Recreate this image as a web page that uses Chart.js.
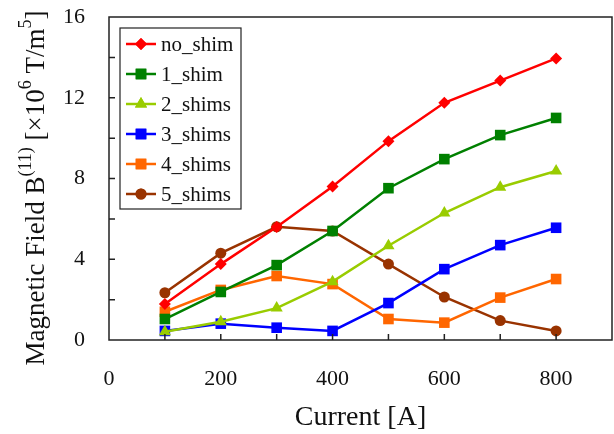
<!DOCTYPE html>
<html>
<head>
<meta charset="utf-8">
<script src="https://cdn.jsdelivr.net/npm/chart.js@4/dist/chart.umd.min.js"></script>
<style>
  html, body { margin: 0; padding: 0; background: #fff; }
  #wrap { width: 614px; height: 434px; }
</style>
</head>
<body>
<div id="wrap"><canvas id="myChart" width="614" height="434"></canvas></div>
<script>
// data
const current = [100, 200, 300, 400, 500, 600, 700, 800]
const noShim = [1.78, 3.76, 5.6, 7.6, 9.85, 11.75, 12.85, 13.95]
const shim1 = [1.04, 2.38, 3.71, 5.4, 7.52, 8.96, 10.15, 11.0]
const shim2 = [0.41, 0.9, 1.58, 2.89, 4.67, 6.29, 7.57, 8.37]
const shim3 = [0.45, 0.81, 0.61, 0.45, 1.83, 3.51, 4.7, 5.56]
const shim4 = [1.4, 2.48, 3.17, 2.77, 1.04, 0.86, 2.1, 3.02]
const shim5 = [2.34, 4.3, 5.61, 5.4, 3.76, 2.13, 0.96, 0.45]

const serif = "'Liberation Serif', 'Times New Roman', serif"

function pts(vals) {
    return vals.map((v, i) => ({ x: current[i], y: v }))
}

function series(label, vals, color, style, r) {
    return {
        label: label,
        data: pts(vals),
        borderColor: color,
        backgroundColor: color,
        borderWidth: 2.5,
        pointStyle: style,
        pointRadius: r,
        pointHoverRadius: r,
        pointBorderWidth: 0,
        tension: 0,
    }
}

function noPad(s) {
    s.paddingTop = 0
    s.paddingBottom = 0
    s.paddingLeft = 0
    s.paddingRight = 0
}

// box, inward ticks, y title with superscripts, legend
const decor = {
    id: 'decor',
    afterDraw(chart) {
        const ctx = chart.ctx
        const a = chart.chartArea
        const xs = chart.scales.x
        const ys = chart.scales.y
        ctx.save()
        ctx.strokeStyle = '#222'
        ctx.lineWidth = 1.5
        ctx.beginPath()
        xs.ticks.forEach(t => {
            if (t.value <= xs.min || t.value >= xs.max) return
            const px = xs.getPixelForValue(t.value)
            ctx.moveTo(px, a.bottom)
            ctx.lineTo(px, a.bottom - 6)
        })
        ys.ticks.forEach(t => {
            if (t.value <= ys.min || t.value >= ys.max) return
            const py = ys.getPixelForValue(t.value)
            ctx.moveTo(a.left, py)
            ctx.lineTo(a.left + 6, py)
        })
        ctx.stroke()
        ctx.strokeRect(a.left, a.top, a.right - a.left, a.bottom - a.top)

        // y axis title
        const parts = [
            ['Magnetic Field B', 27, 0],
            ['(11)', 18, -11],
            [' [\u00d710', 27, 0],
            ['6', 18, -11],
            [' T/m', 27, 0],
            ['5', 18, -11],
            [']', 27, 0],
        ]
        let total = 0
        parts.forEach(p => {
            ctx.font = p[1] + 'px ' + serif
            p.push(ctx.measureText(p[0]).width)
            total += p[3]
        })
        ctx.translate(37, 188)
        ctx.rotate(-Math.PI / 2)
        ctx.fillStyle = '#111'
        ctx.textBaseline = 'middle'
        let cx = -total / 2
        parts.forEach(p => {
            ctx.font = p[1] + 'px ' + serif
            ctx.fillText(p[0], cx, p[2])
            cx += p[3]
        })
        ctx.restore()

        // legend
        ctx.save()
        const lx = 120, ly = 28, lw = 121, lh = 181
        ctx.fillStyle = '#fff'
        ctx.fillRect(lx, ly, lw, lh)
        ctx.strokeStyle = '#222'
        ctx.lineWidth = 1.2
        ctx.strokeRect(lx, ly, lw, lh)
        ctx.font = '21px ' + serif
        ctx.textBaseline = 'middle'
        chart.data.datasets.forEach((ds, i) => {
            const y = ly + 16 + i * 30
            ctx.strokeStyle = ds.borderColor
            ctx.lineWidth = 2.5
            ctx.beginPath()
            ctx.moveTo(lx + 6, y)
            ctx.lineTo(lx + 36, y)
            ctx.stroke()
            ctx.fillStyle = ds.backgroundColor
            Chart.helpers.drawPoint(ctx, {
                pointStyle: ds.pointStyle,
                radius: ds.pointRadius,
                borderWidth: 0,
                rotation: 0,
            }, lx + 21, y)
            ctx.fill()
            ctx.fillStyle = '#111'
            ctx.fillText(ds.label, lx + 41, y + 1)
        })
        ctx.restore()
    }
}

const ctx = document.getElementById('myChart').getContext('2d')
const myChart = new Chart(ctx, {
    type: 'line',
    data: {
        datasets: [
            series('no_shim', noShim, '#ff0000', 'rectRot', 6),
            series('1_shim', shim1, '#008000', 'rect', 7.5),
            series('2_shims', shim2, '#99cc00', 'triangle', 7),
            series('3_shims', shim3, '#0000ff', 'rect', 7.5),
            series('4_shims', shim4, '#ff6600', 'rect', 7.5),
            series('5_shims', shim5, '#993300', 'circle', 5.5),
        ]
    },
    options: {
        responsive: false,
        animation: false,
        layout: { autoPadding: false, padding: { top: 17, right: 2, left: 0, bottom: 0 } },
        plugins: {
            legend: { display: false },
            tooltip: { enabled: false },
        },
        scales: {
            x: {
                type: 'linear',
                min: 0,
                max: 900,
                grid: { display: false, drawTicks: false },
                border: { display: false },
                ticks: {
                    stepSize: 100,
                    padding: 26,
                    maxRotation: 0,
                    autoSkip: false,
                    color: '#111',
                    font: { family: serif, size: 22 },
                    callback: v => v % 200 === 0 ? v : '',
                },
                title: {
                    display: true,
                    text: 'Current [A]',
                    color: '#111',
                    font: { family: serif, size: 28 },
                    padding: { top: 5, bottom: 0 },
                },
                afterFit: s => { s.height = 94; noPad(s) },
            },
            y: {
                min: 0,
                max: 16,
                grid: { display: false, drawTicks: false },
                border: { display: false },
                ticks: {
                    stepSize: 2,
                    padding: 24,
                    autoSkip: false,
                    color: '#111',
                    font: { family: serif, size: 22 },
                    callback: v => v % 4 === 0 ? v : '',
                },
                afterFit: s => { s.width = 109; noPad(s) },
            }
        }
    },
    plugins: [decor]
})
</script>
</body>
</html>
